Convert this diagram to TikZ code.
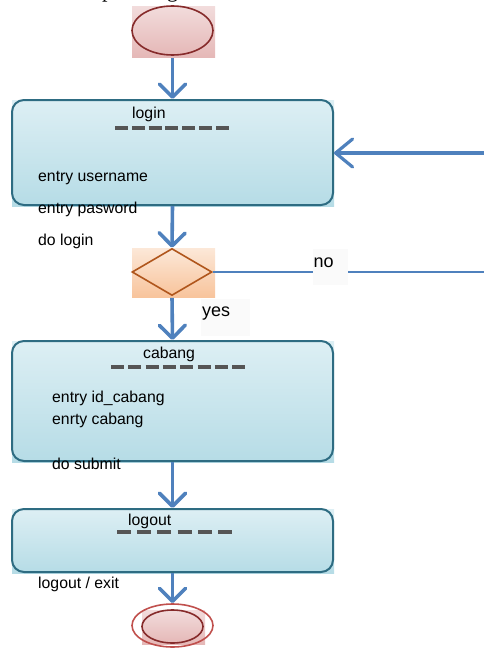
\documentclass[tikz,border=0pt]{standalone}
\usepackage{fontspec}
\setmainfont{Liberation Sans}
\newfontfamily\captionserif{Liberation Serif}
\usetikzlibrary{arrows.meta,shapes.geometric}

\definecolor{flowblue}{HTML}{4F81BD}
\definecolor{boxedge}{HTML}{2E6C82}
\definecolor{boxtop}{HTML}{DDEFF4}
\definecolor{boxbottom}{HTML}{B6DCE6}
\definecolor{pinktop}{HTML}{F2DCDC}
\definecolor{pinkbottom}{HTML}{E5B8B7}
\definecolor{startedge}{HTML}{862B2B}
\definecolor{finaledge}{HTML}{C0504D}
\definecolor{orangetop}{HTML}{FCE8D8}
\definecolor{orangebottom}{HTML}{F8C49C}
\definecolor{choiceedge}{HTML}{B0561C}
\definecolor{sepgray}{HTML}{555555}
\definecolor{labelbg}{HTML}{FAFAFA}

\begin{document}
\begin{tikzpicture}[x=1pt,y=-1pt,
  txt/.style={font=\fontsize{15.8}{19}\selectfont,inner sep=0pt,anchor=base west},
  bigtxt/.style={font=\fontsize{18}{21}\selectfont,inner sep=0pt,anchor=base west},
  headtxt/.style={font=\captionserif\fontsize{22}{24}\selectfont,inner sep=0pt,anchor=base west},
  bluefill/.style={top color=boxtop,bottom color=boxbottom},
  pinkfill/.style={top color=pinktop,bottom color=pinkbottom},
  orangefill/.style={top color=orangetop,bottom color=orangebottom},
  statebox/.style={draw=boxedge,line width=2pt,bluefill,rounded corners=12pt,
    minimum width=321pt,inner sep=0pt},
  sepdash/.style={draw=sepgray,line width=3.2pt,line cap=butt},
  flow/.style={draw=flowblue,line width=3.6pt,
    -{Straight Barb[length=13pt,width=26pt,round]}},
  backflow/.style={draw=flowblue,line width=3.2pt,
    -{Straight Barb[length=17pt,width=28pt,round]}},
  thinflow/.style={draw=flowblue,line width=2pt},
  tagbox/.style={fill=labelbg,inner sep=0pt}]
\useasboundingbox (0,0) rectangle (483,648);

% heading fragment cut by the top edge
\node[headtxt] (headp) at (102,-3) {p};
\node[headtxt] (headg) at (167,-3) {g};

% gradient plates behind the shapes
\shade[pinkfill] (132,6) rectangle (215,57);
\shade[bluefill] (12,100) rectangle (334,206);
\shade[orangefill] (132,248) rectangle (215,297);
\shade[bluefill] (12,341) rectangle (334,462);
\shade[bluefill] (12,509) rectangle (334,573);
\shade[pinkfill] (142,610) rectangle (205,644);

% initial state
\node[ellipse,draw=startedge,line width=1.6pt,pinkfill,minimum width=81pt,
  minimum height=49pt,inner sep=0pt] (start) at (172.5,30.5) {};

% login state
\node[statebox,minimum height=105pt] (login) at (172.5,152.5) {};
\node[txt] (logintitle) at (132,118) {login};
\draw[sepdash,dash pattern=on 13pt off 3.8pt] (115,128) -- (229,128);
\node[txt] (loginuser) at (38,181) {entry username};
\node[txt] (loginpass) at (38,213) {entry pasword};
\node[txt] (logindo) at (38,245) {do login};

% decision
\node[diamond,draw=choiceedge,line width=1.6pt,orangefill,minimum width=80pt,
  minimum height=47pt,inner sep=0pt] (check) at (172,272) {};

% cabang state
\node[statebox,minimum height=120pt] (cabang) at (172.5,401) {};
\node[txt] (cabangtitle) at (143,358) {cabang};
\draw[sepdash,dash pattern=on 13pt off 4.3pt] (111,367) -- (245,367);
\node[txt] (cabangid) at (52,402) {entry id\_cabang};
\node[txt] (cabangname) at (52,424) {enrty cabang};
\node[txt] (cabangdo) at (52,469) {do submit};

% logout state
\node[statebox,minimum height=63pt] (logout) at (172.5,540.5) {};
\node[txt] (logouttitle) at (128,525) {logout};
\draw[sepdash,dash pattern=on 14pt off 6.2pt] (117,532) -- (232,532);
\node[txt] (logoutdo) at (38,588) {logout / exit};

% final state
\node[ellipse,draw=finaledge,line width=1.6pt,minimum width=81pt,
  minimum height=43pt,inner sep=0pt] (final) at (172.5,625.5) {};
\node[ellipse,draw=startedge,line width=1.6pt,pinkfill,minimum width=61pt,
  minimum height=33pt,inner sep=0pt] (finalcore) at (172.5,626.5) {};

% transitions
\draw[flow,shorten <=2pt] (start.south) -- (login.north);
\draw[flow] (login.south) -- (check.north);
\draw[flow,shorten <=1.5pt] (check.south) -- (cabang.north);
\draw[flow] (cabang.south) -- (logout.north);
\draw[flow] (logout.south) -- (final.north);

% retry loop running off the right edge
\coordinate (loopout) at (500,272);
\coordinate (loopback) at (500,153);
\draw[thinflow] (check.east) -- (loopout);
\draw[backflow] (loopback) -- (login.east |- loopback);

% guard labels
\node[tagbox,minimum width=35pt,minimum height=36pt] (nobox) at (330.5,267) {};
\node[bigtxt] (notext) at (313.5,267) {no};
\node[tagbox,minimum width=49pt,minimum height=37pt] (yesbox) at (225.5,317.5) {};
\node[bigtxt] (yestext) at (202,316) {yes};
\end{tikzpicture}
\end{document}
